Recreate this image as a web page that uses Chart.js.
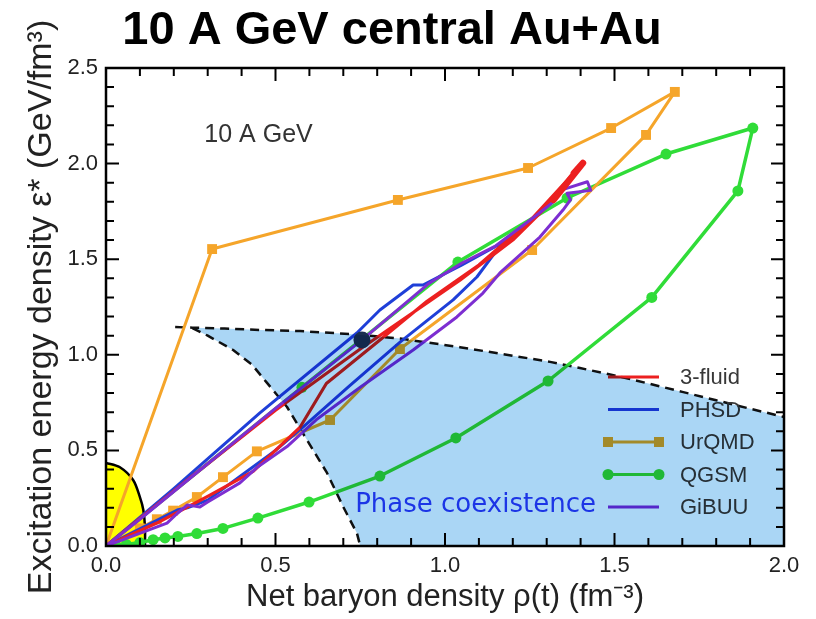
<!DOCTYPE html>
<html><head><meta charset="utf-8">
<script src="https://cdn.jsdelivr.net/npm/chart.js@4"></script>
<style>html,body{margin:0;padding:0;background:#fff;}canvas{display:block;}</style>
</head><body>
<canvas id="c" width="816" height="619"></canvas>
<script>
// ---------- data ----------
const xTickLabels = ['0.0', '0.5', '1.0', '1.5', '2.0'];
const yTickLabels = ['0.0', '0.5', '1.0', '1.5', '2.0', '2.5'];

const fluidX = [0, 0.25, 0.5, 0.75, 1.044, 1.2, 1.32, 1.407, 1.38, 1.25, 1.1, 0.947, 0.808, 0.65, 0.572, 0.434, 0.3, 0.15, 0];
const fluidY = [0, 0.36, 0.71, 1.03, 1.39, 1.6, 1.81, 2.003, 1.95, 1.7, 1.47, 1.28, 1.077, 0.85, 0.62, 0.39, 0.26, 0.12, 0];

const phsdX = [0, 0.2, 0.454, 0.74, 0.808, 0.906, 0.935, 1.05, 1.2, 1.153, 1.094, 1.024, 0.87, 0.72, 0.581, 0.5, 0.4, 0.3, 0.277, 0.24, 0.21, 0.1, 0];
const phsdY = [0, 0.3, 0.696, 1.114, 1.234, 1.365, 1.365, 1.47, 1.616, 1.548, 1.407, 1.287, 1.07, 0.84, 0.622, 0.5, 0.37, 0.24, 0.225, 0.2, 0.188, 0.09, 0];

const urqmdX = [0, 0.313, 0.861, 1.245, 1.49, 1.678, 1.593, 1.257, 0.867, 0.661, 0.445, 0.345, 0.268, 0.198, 0.15, 0.1, 0];
const urqmdY = [0, 1.553, 1.81, 1.977, 2.186, 2.375, 2.15, 1.548, 1.03, 0.659, 0.495, 0.36, 0.256, 0.185, 0.14, 0.092, 0];

const qgsmX = [0.03, 0.06, 0.1, 0.139, 0.174, 0.212, 0.268, 0.345, 0.448, 0.599, 0.808, 1.032, 1.304, 1.61, 1.864, 1.908, 1.652, 1.36, 1.038, 0.578, 0];
const qgsmY = [0, 0.008, 0.018, 0.033, 0.042, 0.05, 0.065, 0.092, 0.146, 0.23, 0.366, 0.565, 0.863, 1.30, 1.857, 2.186, 2.05, 1.82, 1.485, 0.83, 0];

const gibuuX = [0, 0.1, 0.3, 0.5, 0.75, 0.95, 1.05, 1.15, 1.27, 1.32, 1.34, 1.42, 1.43, 1.36, 1.37, 1.348, 1.28, 1.162, 1.112, 1.035, 0.906, 0.75, 0.62, 0.534, 0.445, 0.395, 0.3, 0.277, 0.24, 0.21, 0.18, 0];
const gibuuY = [0, 0.14, 0.43, 0.72, 1.07, 1.37, 1.48, 1.57, 1.73, 1.80, 1.86, 1.905, 1.86, 1.845, 1.81, 1.757, 1.616, 1.428, 1.323, 1.198, 1.025, 0.83, 0.66, 0.52, 0.41, 0.33, 0.23, 0.204, 0.215, 0.17, 0.12, 0];

const dotX = [0.755];
const dotY = [1.077];

const yellowX = [0, 0.04, 0.08, 0.1, 0.11, 0.115, 0.115];
const yellowY = [0.435, 0.413, 0.345, 0.256, 0.19, 0.1, 0];

const phaseTopX = [0.204, 0.255, 0.35, 0.454, 0.572, 0.729, 0.867, 1.044, 1.2, 1.31, 1.398, 1.5, 1.6, 1.7, 1.8, 1.9, 2.0];
const phaseTopY = [1.145, 1.142, 1.137, 1.13, 1.124, 1.108, 1.085, 1.04, 0.995, 0.963, 0.931, 0.892, 0.85, 0.806, 0.762, 0.718, 0.675];
const phaseLeftX = [0.255, 0.3, 0.375, 0.43, 0.475, 0.534, 0.593, 0.652, 0.7, 0.74, 0.75];
const phaseLeftY = [1.14, 1.1, 1.025, 0.95, 0.853, 0.727, 0.554, 0.382, 0.204, 0.068, 0];

const legendOrder = ['3-fluid', 'PHSD', 'UrQMD', 'QGSM', 'GiBUU'];

// ---------- helpers ----------
const pts = (xs, ys) => xs.map((x, i) => ({ x, y: ys[i] }));
const FONT = "'Liberation Sans', Arial, Helvetica, sans-serif";

const C = {
  red: '#ec2020', blue: '#1f3fd8', orange: '#f5a52a', green: '#30dc38', purple: '#7d2ed1'
};

function lineDs(label, xs, ys, color, width, order, extra) {
  return Object.assign({
    label, data: pts(xs, ys), showLine: true, borderColor: color, backgroundColor: color,
    borderWidth: width, pointRadius: 0, fill: false, tension: 0, order,
    borderJoinStyle: 'round', borderCapStyle: 'round'
  }, extra || {});
}

const datasets = [
  lineDs('yellow', yellowX, yellowY, '#000', 2.5, 20, { fill: 'origin', backgroundColor: '#ffff00', tension: 0.3 }),
  lineDs('phaseTop', phaseTopX, phaseTopY, '#111', 2.5, 19, { borderDash: [9, 6], borderCapStyle: 'butt' }),
  lineDs('phaseLeft', phaseLeftX, phaseLeftY, '#111', 2.5, 19, { borderDash: [9, 6], borderCapStyle: 'butt' }),
  lineDs('QGSM', qgsmX, qgsmY, C.green, 3.5, 6, {
    pointRadius: ctx => (ctx.dataIndex === qgsmX.length - 1 ? 0 : 5.5), pointStyle: 'circle',
    pointBorderWidth: 0, pointBackgroundColor: C.green
  }),
  lineDs('UrQMD', urqmdX, urqmdY, C.orange, 3, 5, {
    pointRadius: ctx => (ctx.dataIndex === urqmdX.length - 1 ? 0 : 7), pointStyle: 'rect',
    pointBorderWidth: 0, pointBackgroundColor: C.orange
  }),
  lineDs('PHSD', phsdX, phsdY, C.blue, 3, 4),
  lineDs('3-fluid', fluidX, fluidY, C.red, 3.2, 3),
  lineDs('GiBUU', gibuuX, gibuuY, C.purple, 3, 2),
  lineDs('3-fluid tip', fluidX.slice(6, 9), fluidY.slice(6, 9), C.red, 6.5, 1),
  { label: 'dot', data: pts(dotX, dotY), showLine: false, pointRadius: 8.5, pointBackgroundColor: '#1b3050', pointBorderWidth: 0, order: 0 }
];

// ---------- custom drawing plugin ----------
const decor = {
  id: 'decor',
  beforeDraw(chart) {
    const c = chart.ctx; c.save(); c.fillStyle = '#fff'; c.fillRect(0, 0, chart.width, chart.height); c.restore();
  },
  afterDatasetsDraw(chart) {
    const { ctx, scales: { x, y } } = chart;
    // legend
    ctx.save();
    const rowY0 = 377, rowGap = 32.5, lx0 = 608, lx1 = 659, tx = 680;
    legendOrder.forEach((lab, i) => {
      const ds = chart.data.datasets.find(d => d.label === lab);
      const yy = rowY0 + i * rowGap;
      ctx.strokeStyle = ds.borderColor; ctx.lineWidth = 3; ctx.lineCap = 'butt';
      ctx.beginPath(); ctx.moveTo(lx0, yy); ctx.lineTo(lx1, yy); ctx.stroke();
      ctx.fillStyle = ds.borderColor;
      if (ds.pointStyle === 'rect') {
        [lx0, lx1].forEach(px => ctx.fillRect(px - 5, yy - 5, 10, 10));
      } else if (ds.pointStyle === 'circle') {
        [lx0, lx1].forEach(px => { ctx.beginPath(); ctx.arc(px, yy, 5.5, 0, Math.PI * 2); ctx.fill(); });
      }
      ctx.fillStyle = '#383838';
      ctx.font = "22px " + FONT; ctx.textBaseline = 'middle'; ctx.textAlign = 'left';
      ctx.fillText(lab, tx, yy + 1);
    });
    ctx.restore();

    // phase coexistence region (drawn over the curves, multiply blend)
    const poly = [];
    phaseTopX.forEach((v, i) => { if (v >= phaseLeftX[0]) poly.push([v, phaseTopY[i]]); });
    poly.push([x.max, 0]);
    for (let i = phaseLeftX.length - 1; i >= 0; i--) poly.push([phaseLeftX[i], phaseLeftY[i]]);
    ctx.save();
    const a = chart.chartArea;
    ctx.beginPath(); ctx.rect(a.left, a.top, a.right - a.left, a.bottom - a.top); ctx.clip();
    ctx.globalCompositeOperation = 'multiply';
    ctx.fillStyle = 'rgb(170,214,245)';
    ctx.beginPath();
    poly.forEach((p, i) => {
      const px = x.getPixelForValue(p[0]), py = y.getPixelForValue(p[1]);
      if (i) ctx.lineTo(px, py); else ctx.moveTo(px, py);
    });
    ctx.closePath(); ctx.fill();
    ctx.restore();
  },
  afterDraw(chart) {
    const { ctx, chartArea: a, scales: { x, y } } = chart;
    ctx.save();
    // ticks (inward, on all four sides)
    ctx.strokeStyle = '#000'; ctx.lineWidth = 2;
    for (let i = 0; i <= Math.round((x.max - x.min) * 10); i++) {
      const v = x.min + i / 10, len = i % 5 === 0 ? 13 : 8, px = x.getPixelForValue(v);
      ctx.beginPath();
      ctx.moveTo(px, a.bottom); ctx.lineTo(px, a.bottom - len);
      ctx.moveTo(px, a.top); ctx.lineTo(px, a.top + len);
      ctx.stroke();
    }
    for (let i = 0; i <= Math.round((y.max - y.min) * 10); i++) {
      const v = y.min + i / 10, len = i % 5 === 0 ? 13 : 8, py = y.getPixelForValue(v);
      ctx.beginPath();
      ctx.moveTo(a.left, py); ctx.lineTo(a.left + len, py);
      ctx.moveTo(a.right, py); ctx.lineTo(a.right - len, py);
      ctx.stroke();
    }
    // frame
    ctx.lineWidth = 2.5;
    ctx.strokeRect(a.left, a.top, a.right - a.left, a.bottom - a.top);
    // annotations
    ctx.fillStyle = '#333'; ctx.font = "25px " + FONT; ctx.textBaseline = 'middle'; ctx.textAlign = 'left';
    ctx.fillText('10 A GeV', x.getPixelForValue(0.29), y.getPixelForValue(2.15));
    ctx.fillStyle = '#1c35e6'; ctx.font = "26px 'DejaVu Sans', Verdana, sans-serif";
    ctx.fillText('Phase coexistence', x.getPixelForValue(0.735), y.getPixelForValue(0.215));
    ctx.restore();
  }
};

new Chart(document.getElementById('c'), {
  type: 'scatter',
  data: { datasets },
  options: {
    responsive: false, animation: false, devicePixelRatio: 1, events: [],
    layout: { padding: { left: 0, right: 32, top: 0, bottom: 0 } },
    plugins: {
      legend: { display: false }, tooltip: { enabled: false },
      title: {
        display: true, text: '10 A GeV central Au+Au', color: '#000',
        font: { family: FONT, size: 47, weight: 'bold', lineHeight: 1.2 },
        padding: { top: 3, bottom: 8.6 }
      }
    },
    scales: {
      x: {
        type: 'linear', min: 0, max: 2, position: 'bottom',
        grid: { display: false, drawTicks: false }, border: { display: false },
        ticks: { stepSize: 0.5, autoSkip: false, maxRotation: 0, padding: 7, color: '#222',
          font: { family: FONT, size: 22 }, callback: (v, i) => xTickLabels[i] },
        title: { display: true, text: 'Net baryon density ρ(t) (fm⁻³)', color: '#222',
          font: { family: FONT, size: 31, lineHeight: 1.2 }, padding: { top: 0, bottom: 3 } },
        afterFit: s => { s.height = 73; s.paddingLeft = 0; s.paddingRight = 0; }
      },
      y: {
        type: 'linear', min: 0, max: 2.5, position: 'left',
        grid: { display: false, drawTicks: false }, border: { display: false },
        ticks: { stepSize: 0.5, autoSkip: false, padding: 8, color: '#222',
          font: { family: FONT, size: 22 }, callback: (v, i) => yTickLabels[i] },
        title: { display: true, text: 'Excitation energy density ε* (GeV/fm³)', color: '#222',
          font: { family: FONT, size: 34, lineHeight: 1.2 }, padding: { top: 21.5, bottom: 0 } },
        afterFit: s => { s.width = 106; s.paddingTop = 0; s.paddingBottom = 0; }
      }
    }
  },
  plugins: [decor]
});
</script>
</body></html>
